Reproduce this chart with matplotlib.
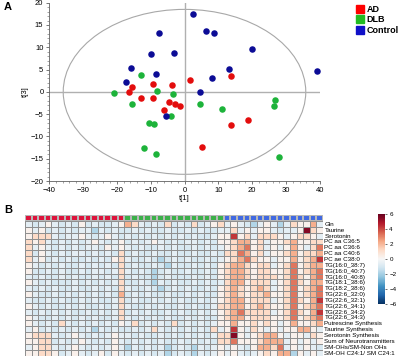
import numpy as np
import matplotlib
matplotlib.use("Agg")
import matplotlib.pyplot as plt
from matplotlib.patches import Ellipse, Patch
from matplotlib.colors import ListedColormap

plt.rcParams["font.family"] = ["Liberation Sans", "DejaVu Sans"]

# ---- panel A: score plot t[1] vs t[3] ----
ad_t1 = [-15.5, -16.3, -9.3, -3.6, 1.6, -12.8, -9.3, -4.6, -2.8, -1.4, -6.0, 5.3, 13.8, 18.8, 13.6]
ad_t3 = [1.2, -0.1, 1.8, 1.5, 2.7, -1.4, -1.3, -2.2, -2.7, -3.2, -4.0, -12.3, 3.5, -6.4, -7.5]
dlb_t1 = [-20.8, -12.9, -8.0, -3.5, -15.4, -3.9, -10.5, -9.0, -12.1, -8.3, 26.7, 26.5, 11.1, 4.6, 27.8]
dlb_t3 = [-0.3, 3.8, 0.1, -0.4, -2.8, -5.4, -6.9, -7.2, -12.5, -13.9, -1.8, -3.1, -3.9, -2.7, -14.7]
ctl_t1 = [2.5, -7.6, -9.8, -3.2, -15.8, -8.3, -17.4, -5.4, 6.4, 8.8, 20.0, 13.0, 8.0, 39.0, 4.6]
ctl_t3 = [17.5, 13.2, 8.4, 8.8, 5.4, 3.9, 2.2, -5.5, 13.7, 13.1, 9.6, 5.2, 3.1, 4.6, -0.1]
ellipse_ax = (35.8, 18.5)

# ---- panel B: heatmap (z-scores, coded per cell) ----
row_labels = ["Gln", "Taurine", "Serotonin", "PC aa C36:5", "PC aa C36:6", "PC aa C40:6",
              "PC ae C38:0", "TG(16:0_38:7)", "TG(16:0_40:7)", "TG(16:0_40:8)", "TG(18:1_38:6)",
              "TG(18:2_38:6)", "TG(22:6_32:0)", "TG(22:6_32:1)", "TG(22:6_34:1)", "TG(22:6_34:2)",
              "TG(22:6_34:3)", "Putrescine Synthesis", "Taurine Synthesis", "Serotonin Synthesis",
              "Sum of Neurotransmitters", "SM-OHs/SM-Non OHs", "SM-OH C24:1/ SM C24:1"]
code_values = {"B": -1.8, "b": -1.0, ".": -0.6, "o": 0.3, "p": 1.2, "P": 2.2, "r": 3.2, "R": 4.3, "D": 5.5}
heat_rows = [
    ".b.o.b.bob.bb.o Pp.b.bpb.bpb.op .o.bB.o.B.pooP.",
    "o.ob.b.b..B.b.b b.b.bb.bb.b.bb. .p.o.oo.b..oDpo",
    "oppp.b..o.b.o.b .b.b.b.b.b.bb.o oRop.pppo.oppo.",
    "pop.b.b.b.o.b.o b.b.o.b.b..b.bo opPPop.oopPoopp",
    "p.o.b.b.b..bo.o .b.bb.b.bb.b.b. opProp.o.oPo.pr",
    "pbo.b.b..b.b.bp b.bb.bb.bb.bb.b pprPop.oopPoppP",
    "p.ob.b.bb.b.bop .bb.bBb.b.bb.b. opPrpoo.ooPopPR",
    "o.b.b.bb.b.b.bp b.bb.bB.bb.b.bo pPPpopp.opropPP",
    "obb.b.bb.b..b.p .b.bBb.bb.bb.bo pPPpoppoopropPr",
    ".b.bb.b.bb.b.bp b.bbBb.bbb.b.bo pPPpopppoprpoPr",
    "o.b.bbb.b.b.b.p bb.bB.b.bb.b.b. pPPoppp.oprpoPP",
    ".b.b.bb.bb.b.bp .bb.bBb.b.bb.bo pPpopPp.opropPr",
    "o.bb.b.b.b.b.bP b.b.bb.bb.b.bbo pPpoppPoopropPr",
    ".bb.b.bb.b.bb.p b.bb.b.b.bb.b.o pPPoppp.oprpoPR",
    "o.b.bb.b.bb.b.p .bb.b.bb.b.bb.p pPPopPpoopropPr",
    ".b.b.b.bb.b.b.p b.b.bb.b.bb.b.o pPrpppp.oprpoPR",
    "o.bb.b.b.b.bb.p .b.b.b.bb.b.bbo pPPopppoopropPr",
    "o.b.bp.b.b.b.bo .pb.b.bpb.b.b.o oPoopopo.oPoopP",
    ".ob.b.b.b.B.b.b b.b.p.b.b.b.bp. oRo.po.o.ooPPo.",
    "oppp.b.o.b.b.o. .b.bb.b.b.b.b.p pDo.opPPo.oo.po",
    "ooppb.b.o.b.bo. b.b.b.bb.b.b.bp prooopPPP.o.o.o",
    ".opp.b.o.b.b.o. B.b.b.Bb.bB.b.o .o.boPPpr.o.o.b",
    "ooppob.o.b.obo. b.b.b.Bb.bB.b.o .o.b.opoPPBo.o.",
]
groups = ["AD"] * 15 + ["DLB"] * 15 + ["Control"] * 15

heat = np.array([[code_values[c] for c in r.replace(" ", "")] for r in heat_rows])

DOT = {"AD": "#e30d0d", "DLB": "#1db33a", "Control": "#0c0c96"}
BAR = {"AD": "#dc143c", "DLB": "#3cb04a", "Control": "#4169e1"}

fig = plt.figure(figsize=(4.01, 3.56), dpi=100)
W, H = 401, 356

# panel A
ax = fig.add_axes([49 / W, 1 - 181 / H, 271 / W, 178.3 / H])
ax.add_patch(Ellipse((0, 0), 2 * ellipse_ax[0], 2 * ellipse_ax[1], fill=False,
                     ec="#a8a8a8", lw=0.8, zorder=1))
ax.axhline(0, color="#b0b0b0", lw=1.0, zorder=1)
ax.axvline(0, color="#b0b0b0", lw=1.0, zorder=1)
for g, xs, ys in [("AD", ad_t1, ad_t3), ("DLB", dlb_t1, dlb_t3), ("Control", ctl_t1, ctl_t3)]:
    ax.scatter(xs, ys, s=22, color=DOT[g], lw=0, zorder=3)
ax.set_xlim(-40, 40)
ax.set_ylim(-20, 20)
ax.set_xticks(np.arange(-40, 41, 10))
ax.set_yticks(np.arange(-20, 21, 5))
ax.set_xticks(np.arange(-40, 41, 2), minor=True)
ax.set_yticks(np.arange(-20, 21, 1), minor=True)
ax.tick_params(labelsize=5.5, length=2.5, width=0.6, color="#606060", pad=1.5)
ax.tick_params(which="minor", length=1.3, width=0.5, color="#808080")
ax.spines[["top", "right"]].set_visible(False)
ax.spines[["left", "bottom"]].set_color("#606060")
ax.spines[["left", "bottom"]].set_linewidth(0.6)
ax.set_xlabel("t[1]", fontsize=5.5, labelpad=1)
ax.set_ylabel("t[3]", fontsize=5.5, labelpad=1)

handles = [Patch(color=DOT[g] if g != "AD" else "#ff0000", label=g) for g in ["AD", "DLB", "Control"]]
handles[1] = Patch(color="#22bb22", label="DLB")
handles[2] = Patch(color="#1010c8", label="Control")
fig.legend(handles=handles, loc="upper left", bbox_to_anchor=(352 / W, 1 - 1 / H),
           frameon=False, fontsize=6.5, handlelength=0.9, handleheight=1.0,
           handletextpad=0.3, labelspacing=0.15, borderaxespad=0,
           prop={"weight": "bold", "size": 6.5})

fig.text(4 / W, 1 - 10 / H, "A", fontsize=8, fontweight="bold")
fig.text(4 / W, 1 - 213 / H, "B", fontsize=8, fontweight="bold")

# panel B: group bar
n_col = len(groups)
bax = fig.add_axes([25 / W, 1 - 221 / H, 298 / W, 6.2 / H])
gcodes = np.array([[["AD", "DLB", "Control"].index(g) for g in groups]])
bax.pcolormesh(gcodes, cmap=ListedColormap([BAR["AD"], BAR["DLB"], BAR["Control"]]),
               vmin=-0.5, vmax=2.5, edgecolors="#b8b8b8", linewidth=0.3)
bax.set_xlim(0, n_col)
bax.set_axis_off()

# panel B: heatmap
hax = fig.add_axes([25 / W, 1 - 355.5 / H, 298 / W, 134.5 / H])
mesh = hax.pcolormesh(heat, cmap="RdBu_r", vmin=-6, vmax=6, edgecolors="#8f8f8f", linewidth=0.4)
hax.set_xlim(0, n_col)
hax.set_ylim(len(row_labels), 0)
hax.set_xticks([])
hax.set_yticks(np.arange(len(row_labels)) + 0.5)
hax.set_yticklabels(row_labels)
hax.yaxis.tick_right()
hax.tick_params(axis="y", length=0, labelsize=4.5, pad=1)
for s in hax.spines.values():
    s.set_visible(False)

cax = fig.add_axes([378 / W, 1 - 304 / H, 6.5 / W, 90 / H])
cb = fig.colorbar(mesh, cax=cax, ticks=[-6, -4, -2, 0, 2, 4, 6])
cb.outline.set_visible(False)
cax.tick_params(labelsize=4.5, length=1.5, width=0.4, pad=2)

fig.savefig("out.png", dpi=100, facecolor="white")
